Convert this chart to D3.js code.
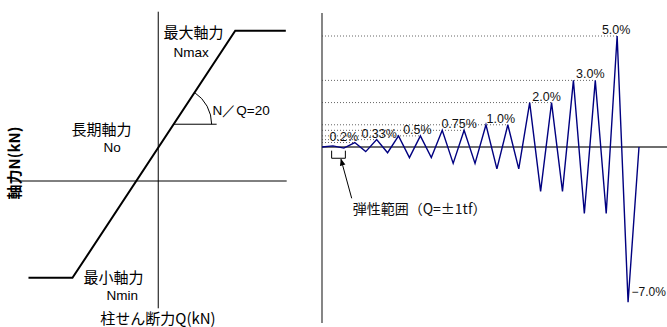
<!DOCTYPE html>
<html>
<head>
<meta charset="utf-8">
<script src="https://cdn.jsdelivr.net/npm/d3@7"></script>
<style>
  html, body { margin: 0; padding: 0; background: #fff; }
  svg { display: block; }
  .lat { font-family: "Liberation Sans", Arial, sans-serif; }
  .jp { font-family: "Noto Sans CJK JP", sans-serif; }
</style>
</head>
<body>
<svg id="chart" width="667" height="327"></svg>
<script>
// ---- Left panel: axial force vs. column shear (conceptual) ----
const axialLevels = [4500, 1000, -2900];          // Nmax, No, Nmin (kN)
const axialNames = ["最大軸力", "長期軸力", "最小軸力"];
const axialSymbols = ["Nmax", "No", "Nmin"];
const nqRatio = 20;                               // N/Q
const shearExtent = [-337, 292];                  // Q axis extent
const axialExtent = [-3811, 5069];                // N axis extent
const shearEnds = [-295, 290];                    // flat segment ends

// ---- Right panel: loading history (story drift %) ----
const driftSeries = [0, 0.05, -0.05, 0.2, -0.21, 0.33, -0.26, 0.5, -0.48, 0.5, -0.48,
  0.75, -0.74, 0.75, -0.74, 1.0, -0.99, 1.0, -0.99, 2.0, -2.0, 2.0, -2.0,
  3.0, -3.0, 3.0, -3.0, 5.0, -7.0, 0];
const driftLevels = [0.2, 0.33, 0.5, 0.75, 1.0, 2.0, 3.0, 5.0];
const driftLabels = ["0.2%", "0.33%", "0.5%", "0.75%", "1.0%", "2.0%", "3.0%", "5.0%"];
const minDrift = -7.0;
const minDriftLabel = "−7.0%";
const elasticCycle = [1, 2];                       // steps under load control
const elasticLabel = "弾性範囲（Q=±1tf）";

const svg = d3.select("#chart");

// ===== Left panel =====
const xL = d3.scaleLinear().domain(shearExtent).range([10, 286.7]);
const yL = d3.scaleLinear().domain(axialExtent).range([308.3, 11.7]);
const left = svg.append("g");

left.append("line")
  .attr("x1", xL(shearExtent[0])).attr("x2", xL(shearExtent[1]))
  .attr("y1", yL(0)).attr("y2", yL(0))
  .attr("stroke", "#000").attr("stroke-width", 1);
left.append("line")
  .attr("x1", xL(0)).attr("x2", xL(0))
  .attr("y1", yL(axialExtent[1])).attr("y2", yL(axialExtent[0]))
  .attr("stroke", "#000").attr("stroke-width", 1);

const [nMax, nLong, nMin] = axialLevels;
const qAt = n => (n - nLong) / nqRatio;
const envelope = [
  [shearEnds[0], nMin], [qAt(nMin), nMin], [qAt(nMax), nMax], [shearEnds[1], nMax]
];
left.append("path")
  .attr("d", d3.line().x(d => xL(d[0])).y(d => yL(d[1]))(envelope))
  .attr("fill", "none").attr("stroke", "#000").attr("stroke-width", 2)
  .attr("stroke-linejoin", "miter");

// slope marker
const nMark = 1700;
const cx = xL(qAt(nMark)), cy = yL(nMark);
const p2 = [xL(qAt(nMax)), yL(nMax)];
const ang = Math.atan2(p2[1] - cy, p2[0] - cx);
const r = 38;
left.append("line")
  .attr("x1", cx).attr("x2", cx + r + 5).attr("y1", cy).attr("y2", cy)
  .attr("stroke", "#000").attr("stroke-width", 1);
left.append("path")
  .attr("d", `M${cx + r * Math.cos(ang)},${cy + r * Math.sin(ang)} A${r},${r} 0 0 1 ${cx + r},${cy}`)
  .attr("fill", "none").attr("stroke", "#000").attr("stroke-width", 1);
left.append("text").attr("class", "lat")
  .attr("x", 212.5).attr("y", 115).attr("font-size", 13.5)
  .text("N／Q=" + nqRatio);

// level labels
const nameY = [38, 135, 283];
const nameX = [163.5, 71.5, 83.5];
const symX = [173.5, 103.5, 106.5];
const symY = [56.5, 151.5, 300];
axialNames.forEach((t, i) => {
  left.append("text").attr("class", "jp")
    .attr("x", nameX[i]).attr("y", nameY[i]).attr("font-size", 15).text(t);
  left.append("text").attr("class", "lat")
    .attr("x", symX[i]).attr("y", symY[i]).attr("font-size", 13.5).text(axialSymbols[i]);
});

left.append("text").attr("class", "jp")
  .attr("x", 158).attr("y", 324).attr("text-anchor", "middle").attr("font-size", 15)
  .text("柱せん断力Q(kN)");
left.append("text").attr("class", "jp")
  .attr("transform", "translate(20,163) rotate(-90)")
  .attr("text-anchor", "middle").attr("font-size", 15).attr("font-weight", "bold")
  .text("軸力N(kN)");

// ===== Right panel =====
const xR = d3.scaleLinear().domain([0, driftSeries.length - 1]).range([322, 639]);
const yR = d3.scaleLinear().domain([minDrift, 5]).range([302.3, 36]);
const right = svg.append("g");

// reference lines at each drift amplitude
driftLevels.forEach((lv, i) => {
  let last = 0;
  driftSeries.forEach((v, j) => { if (v === lv) last = j; });
  right.append("line")
    .attr("x1", xR(0)).attr("x2", xR(last))
    .attr("y1", yR(lv)).attr("y2", yR(lv))
    .attr("stroke", "#666").attr("stroke-width", 1).attr("stroke-dasharray", "1,2");
});

right.append("line")
  .attr("x1", xR(0)).attr("x2", 667)
  .attr("y1", yR(0)).attr("y2", yR(0))
  .attr("stroke", "#6e6e6e").attr("stroke-width", 2);
right.append("line")
  .attr("x1", xR(0)).attr("x2", xR(0))
  .attr("y1", yR(6.04)).attr("y2", yR(-7.93))
  .attr("stroke", "#444").attr("stroke-width", 1.3);

right.append("path")
  .attr("d", d3.line().x((d, i) => xR(i)).y(d => yR(d))(driftSeries))
  .attr("fill", "none").attr("stroke", "#000080").attr("stroke-width", 1.4)
  .attr("stroke-linejoin", "miter");

// amplitude labels
const labelShift = { "0.2%": -11, "0.33%": 2.5, "0.5%": -3, "0.75%": -5, "1.0%": -7, "2.0%": -5, "3.0%": -5, "5.0%": -1 };
driftLevels.forEach((lv, i) => {
  let last = 0;
  driftSeries.forEach((v, j) => { if (v === lv) last = j; });
  right.append("text").attr("class", "lat")
    .attr("x", xR(last) + labelShift[driftLabels[i]]).attr("y", yR(lv) - 2)
    .attr("text-anchor", "middle").attr("font-size", 12.5).attr("fill", "#111")
    .text(driftLabels[i]);
});
const minIdx = driftSeries.indexOf(minDrift);
right.append("text").attr("class", "lat")
  .attr("x", xR(minIdx) + 3.5).attr("y", yR(minDrift) - 6.5)
  .attr("font-size", 12).attr("fill", "#111").text(minDriftLabel);

// elastic range bracket and callout
const bx0 = xR(elasticCycle[0]) - 1.3, bx1 = xR(elasticCycle[1]) + 1.5;
const by0 = yR(0) + 3.7, by1 = yR(0) + 11.3;
right.append("path")
  .attr("d", `M${bx0},${by0} V${by1} H${bx1} V${by0}`)
  .attr("fill", "none").attr("stroke", "#000").attr("stroke-width", 1);
const defs = svg.append("defs");
defs.append("marker").attr("id", "ah")
  .attr("viewBox", "0 0 10 10").attr("refX", 9).attr("refY", 5)
  .attr("markerWidth", 7).attr("markerHeight", 7).attr("orient", "auto")
  .append("path").attr("d", "M0,1 L10,5 L0,9 Z").attr("fill", "#000");
right.append("line")
  .attr("x1", 351.7).attr("y1", 198.3).attr("x2", (bx0 + bx1) / 2 + 2.5).attr("y2", by1 + 1)
  .attr("stroke", "#000").attr("stroke-width", 1).attr("marker-end", "url(#ah)");
right.append("text").attr("class", "jp")
  .attr("x", 352.7).attr("y", 213.5).attr("font-size", 14).attr("fill", "#111")
  .text(elasticLabel);
</script>
</body>
</html>
